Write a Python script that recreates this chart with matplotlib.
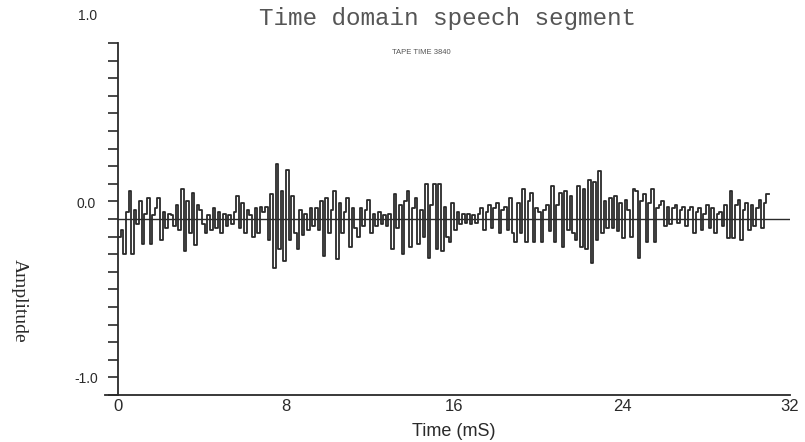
import numpy as np
import matplotlib
matplotlib.use("Agg")
import matplotlib.pyplot as plt

# speech samples, 8 kHz (0.125 ms per sample), one row per millisecond
sample_period_ms = 0.125
amplitude = [
    -0.10, -0.06, -0.20, 0.04, 0.16, -0.20, 0.05, -0.03,
    0.10, -0.14, 0.03, 0.12, -0.14, 0.02, 0.06, 0.12,
    -0.12, 0.04, -0.05, 0.03, 0.02, -0.04, 0.08, -0.06,
    0.17, -0.18, 0.10, -0.08, 0.15, -0.15, 0.08, 0.05,
    -0.03, -0.08, 0.02, -0.06, 0.06, -0.05, 0.04, -0.08,
    0.03, -0.04, 0.02, -0.03, 0.04, 0.13, -0.05, 0.09,
    -0.08, 0.05, 0.02, -0.10, 0.06, -0.08, 0.07, 0.04,
    0.07, -0.12, 0.14, -0.28, 0.31, -0.17, 0.16, -0.24,
    0.28, -0.12, 0.13, -0.08, -0.17, 0.05, -0.09, 0.03,
    -0.06, 0.06, -0.04, 0.06, -0.06, 0.10, -0.21, 0.12,
    -0.08, 0.05, 0.16, -0.23, 0.09, -0.08, 0.04, 0.12,
    -0.16, 0.06, -0.05, -0.10, 0.06, -0.04, 0.05, 0.11,
    -0.08, 0.03, -0.04, 0.04, -0.03, 0.02, -0.04, 0.03,
    -0.17, 0.14, -0.05, 0.08, -0.20, 0.10, 0.16, -0.16,
    0.06, 0.12, -0.14, 0.05, -0.10, 0.20, -0.22, 0.08,
    0.20, -0.17, 0.20, -0.18, 0.07, -0.10, -0.13, 0.09,
    -0.06, 0.04, -0.03, 0.03, -0.02, 0.03, -0.03, 0.02,
    -0.02, 0.03, 0.06, -0.06, 0.04, 0.08, -0.05, 0.06,
    0.09, -0.08, 0.05, 0.07, -0.06, 0.12, -0.08, -0.13,
    0.09, -0.08, 0.17, -0.13, 0.10, 0.15, -0.13, 0.06,
    0.04, -0.13, 0.05, 0.08, -0.07, 0.19, -0.13, 0.08,
    0.15, -0.16, 0.16, -0.06, 0.13, -0.08, -0.12, 0.19,
    -0.16, 0.17, -0.17, 0.22, -0.25, 0.21, -0.12, 0.27,
    -0.08, 0.10, -0.05, 0.12, -0.05, 0.13, -0.07, 0.09,
    -0.11, 0.11, 0.05, -0.10, 0.17, 0.16, -0.22, 0.10,
    0.14, -0.13, 0.09, 0.17, -0.13, 0.06, 0.08, 0.10,
    -0.04, 0.07, -0.03, 0.06, 0.08, -0.02, 0.05, 0.07,
    -0.04, 0.05, 0.07, -0.08, 0.04, 0.06, -0.06, 0.03,
    0.08, -0.05, 0.06, -0.08, 0.03, 0.04, -0.04, 0.08,
    -0.11, 0.16, -0.11, 0.08, 0.11, -0.12, 0.05, 0.09,
    -0.06, 0.08, -0.04, 0.06, 0.11, -0.05, 0.09, 0.14,
]
x_ticks = [0, 8, 16, 24, 32]
y_labels = ["1.0", "0.0", "-1.0"]

ink = "#2a2a2a"
sans = ["Liberation Sans Narrow", "Liberation Sans"]

t = np.arange(len(amplitude)) * sample_period_ms
t_edges = np.append(t, t[-1] + sample_period_ms)
y_edges = np.append(amplitude, amplitude[-1])

fig = plt.figure(figsize=(8.05, 4.42), dpi=100)
ax = fig.add_axes([118 / 805, 47 / 442, 672 / 805, 352 / 442])

ax.axhline(0.0, color=ink, lw=1.0)
ax.step(t_edges, y_edges, where="post", color=ink, lw=1.3)

ax.set_xlim(0, 32)
ax.set_ylim(-1, 1)

for side in ("top", "right"):
    ax.spines[side].set_visible(False)
for side in ("left", "bottom"):
    ax.spines[side].set_color(ink)
    ax.spines[side].set_linewidth(1.3)
# bottom axis runs a little past the left axis
ax.plot([-0.6, 0], [-1, -1], color=ink, lw=1.3, clip_on=False)

ax.set_yticks(np.linspace(-1, 1, 21))
ax.set_yticklabels([])
ax.tick_params(axis="y", direction="out", length=7.5, width=1.2, color=ink)
ax.set_xticks(x_ticks)
ax.set_xticklabels([str(v) for v in x_ticks], fontsize=12,
                   fontfamily=sans, color=ink)
ax.tick_params(axis="x", length=0, pad=3)

# y value labels sit a little above their ticks
for label, (px, py) in zip(y_labels, [(97, 16), (96, 204), (98, 379)]):
    fig.text(px / 805, 1 - py / 442, label, ha="right", va="center",
             fontsize=10, fontfamily=sans, color=ink)

fig.text(19 / 805, 1 - 301 / 442, "Amplitude", rotation=-90, ha="center",
         va="center", fontsize=14, fontfamily="Liberation Serif", color=ink)
ax.set_xlabel("Time (mS)", fontsize=13, fontfamily=sans,
              color=ink, labelpad=6)

fig.text(447 / 805, 1 - 18 / 442, "Time domain speech segment", ha="center",
         va="center", fontsize=17.5, fontfamily="Liberation Mono", color="#555555")
fig.text(421 / 805, 1 - 53 / 442, "TAPE TIME 3840", ha="center", va="center",
         fontsize=5.5, fontfamily="Liberation Sans", color="#555555")

fig.savefig("out.png", dpi=100)
